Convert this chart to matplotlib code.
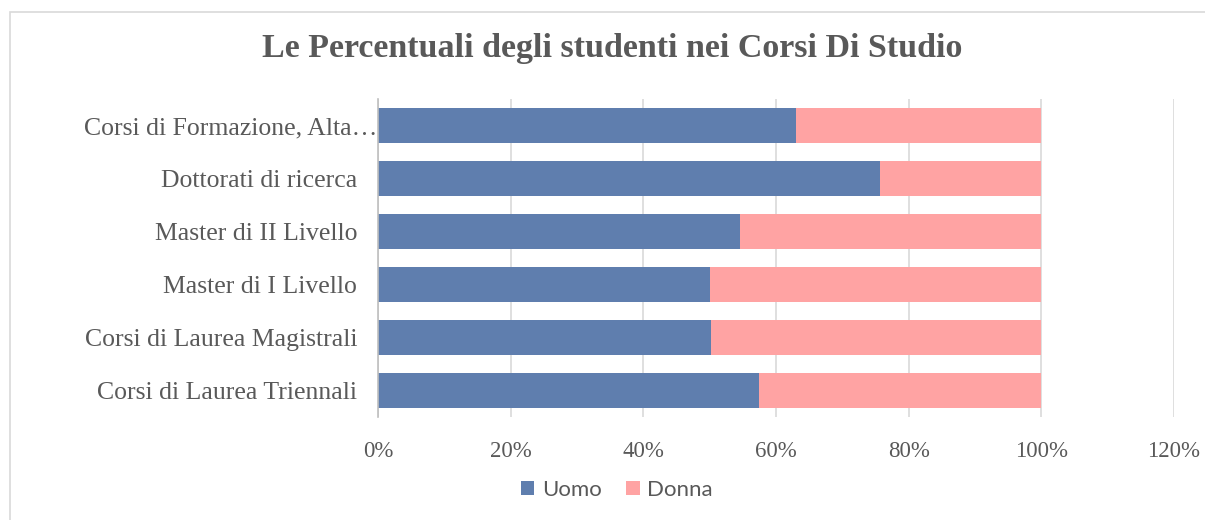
import matplotlib
matplotlib.use("Agg")
import matplotlib.pyplot as plt
from matplotlib.patches import Rectangle
from matplotlib.ticker import FuncFormatter
from matplotlib.transforms import ScaledTranslation

categories = ["Corsi di Laurea Triennali", "Corsi di Laurea Magistrali", "Master di I Livello",
              "Master di II Livello", "Dottorati di ricerca", "Corsi di Formazione, Alta…"]
uomo = [57.5, 50.2, 50.1, 54.6, 75.7, 63.0]
donna = [100 - v for v in uomo]
xticks = [0, 20, 40, 60, 80, 100, 120]
title = "Le Percentuali degli studenti nei Corsi Di Studio"

serif = ["Liberation Serif", "DejaVu Serif"]
fig = plt.figure(figsize=(12.05, 5.2), dpi=100)
fig.patches.append(Rectangle((10/1205, -0.1), 1.2, 1 - 12/520 + 0.1, transform=fig.transFigure,
                             fill=False, edgecolor="#d9d9d9", linewidth=1.2))
ax = fig.add_axes([378/1205, 1 - 417/520, (1174 - 378)/1205, (417 - 99)/520])

y = range(len(categories))
ax.barh(y, uomo, height=0.66, color="#5f7eae", label="Uomo", zorder=3)
ax.barh(y, donna, left=uomo, height=0.66, color="#ffa3a3", label="Donna", zorder=3)
ax.set_xlim(0, 120)
ax.set_ylim(-0.5, len(categories) - 0.5)
ax.set_xticks(xticks)
ax.xaxis.set_major_formatter(FuncFormatter(lambda v, p: f"{int(v)}%"))
ax.set_yticks(list(y))
ax.set_yticklabels(categories)
for lab in ax.get_xticklabels():
    lab.set_family(serif)
    lab.set_fontsize(16.5)
    lab.set_color("#595959")
ylabs = ax.get_yticklabels()
for lab in ylabs:
    lab.set_family(serif)
    lab.set_fontsize(18.5)
    lab.set_color("#595959")
ax.tick_params(axis="both", length=0)
ax.tick_params(axis="x", pad=17)
ax.tick_params(axis="y", pad=15)
ylabs[-1].set_transform(ylabs[-1].get_transform() + ScaledTranslation(0.2, 0, fig.dpi_scale_trans))
ax.grid(axis="x", color="#d9d9d9", linewidth=1.2, zorder=0)
for s in ["top", "right", "bottom"]:
    ax.spines[s].set_visible(False)
ax.spines["left"].set_color("#bfbfbf")
ax.spines["left"].set_linewidth(1.2)
ax.spines["left"].set_zorder(4)

fig.text(612/1205, 1 - 48/520, title, ha="center", va="center", family=serif,
         fontsize=24.5, fontweight="bold", color="#595959")
leg = fig.legend(loc="center", bbox_to_anchor=(617/1205, 1 - 490/520), ncol=2, frameon=False,
                 prop={"family": ["Lato", "DejaVu Sans"], "size": 16}, handlelength=0.6,
                 handleheight=0.6, handletextpad=0.35, columnspacing=1.1)
for t in leg.get_texts():
    t.set_color("#595959")
fig.savefig("out.png", dpi=100)
